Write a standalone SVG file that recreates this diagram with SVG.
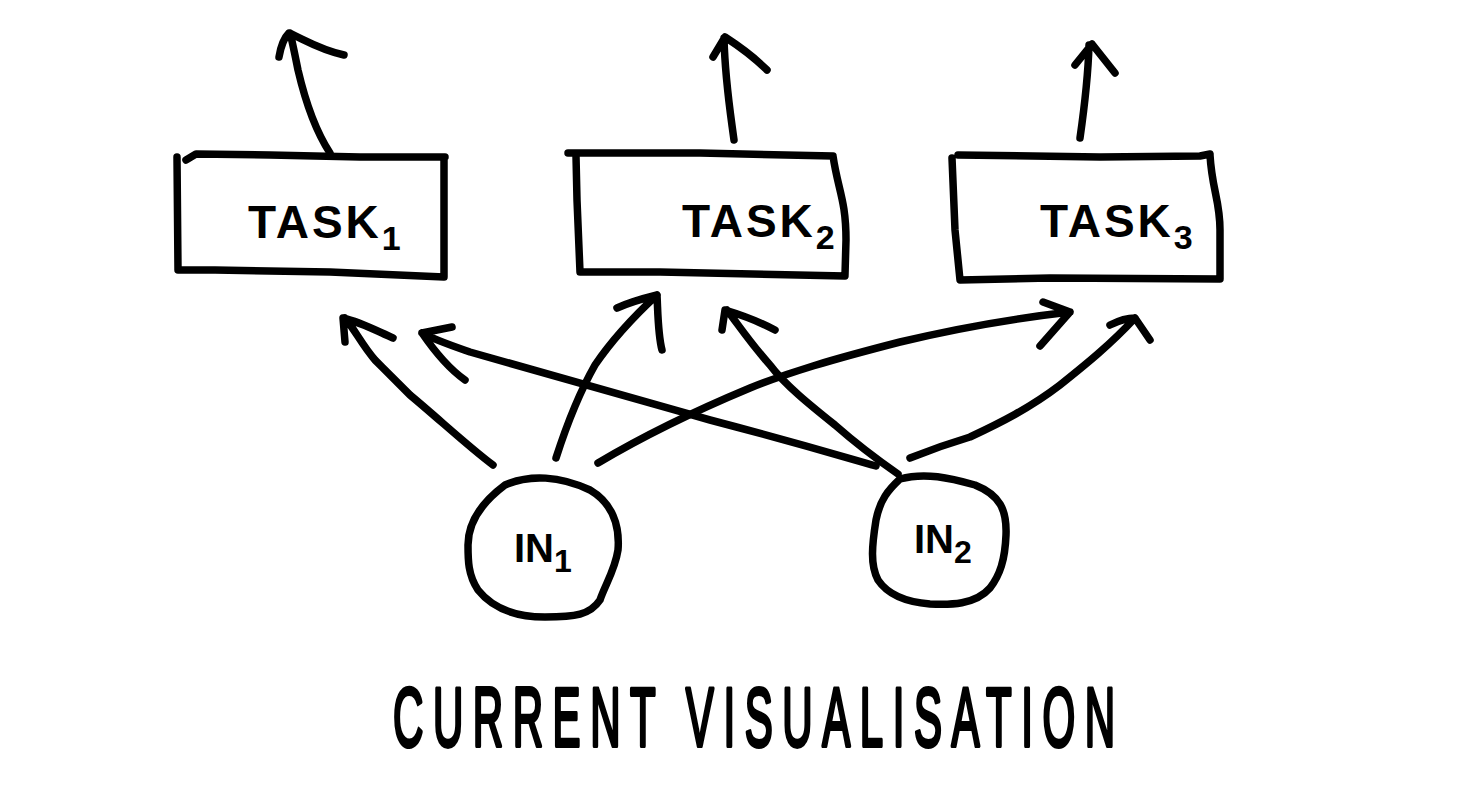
<svg xmlns="http://www.w3.org/2000/svg" width="1484" height="788" viewBox="0 0 1484 788">
<style>
.s{fill:none;stroke:#000;stroke-width:7.5;stroke-linecap:round;stroke-linejoin:round}
.t{font-family:"Liberation Sans",Arial,sans-serif;font-weight:bold;fill:#000}
</style>
<rect width="1484" height="788" fill="#fff"/>
<g id="task1">
<path class="s" d="M186,160 L196,154 L270,155 L360,157 L445,157 M177,157 L178,270 L215,270 L330,272 L444,277 M444,158 L444,277"/>
<text class="t" x="248" y="238" font-size="46" letter-spacing="3">TASK<tspan font-size="34" dy="12">1</tspan></text>
</g>
<g id="task2">
<path class="s" d="M568,153 L700,153 L833,156 M576,156 L577,200 L580,272 L660,272 L845,276 M833,156 C838,190 846,200 846,240 L845,275"/>
<text class="t" x="682" y="237" font-size="46" letter-spacing="3">TASK<tspan font-size="34" dy="12">2</tspan></text>
</g>
<g id="task3">
<path class="s" d="M958,155 L1100,157 L1200,156 L1210,154 M952,158 L955,230 L960,280 L1050,278 L1220,279 M1210,155 C1212,190 1220,200 1220,230 L1220,279"/>
<text class="t" x="1040" y="237" font-size="46" letter-spacing="3">TASK<tspan font-size="34" dy="12">3</tspan></text>
</g>
<g id="in1">
<path class="s" d="M505,485 C530,474 560,476 590,490 C612,503 620,525 618,550 C615,570 605,585 600,600 C590,615 575,617 545,617 C510,617 490,605 478,590 C468,575 468,560 468,545 C468,520 485,500 505,485 Z"/>
<text class="t" x="514" y="562" font-size="40">IN<tspan font-size="32" dy="10">1</tspan></text>
</g>
<g id="in2">
<path class="s" d="M900,479 C925,472 950,478 975,485 C1000,495 1007,510 1006,535 C1005,560 1000,575 990,588 C975,605 950,605 930,604 C905,602 888,595 878,580 C870,565 872,545 876,520 C880,500 888,490 900,479 Z"/>
<text class="t" x="914" y="553" font-size="40">IN<tspan font-size="32" dy="10">2</tspan></text>
</g>
<g id="connectors">
<path class="s" d="M330,153 C315,130 305,100 298,70 C294,50 292,40 290,33 M279,57 C281,45 284,38 289,33 C305,40 320,50 344,55"/>
<path class="s" d="M734,140 C730,110 725,80 724,38 M713,57 L725,37 C745,50 755,58 767,70"/>
<path class="s" d="M1080,138 C1084,110 1088,80 1089,45 M1075,65 L1092,44 L1115,73"/>
<path class="s" d="M493,465 C470,448 440,420 410,395 C390,375 385,370 375,360 C362,345 355,330 345,318 M345,342 L343,318 C360,322 375,330 393,338"/>
<path class="s" d="M556,458 C565,430 578,395 595,365 C612,340 630,320 657,295 M617,308 C630,302 645,298 657,295 C658,315 658,335 662,350"/>
<path class="s" d="M598,463 C640,438 690,413 750,388 C790,372 830,360 900,342 C950,330 1000,320 1070,312 M1043,302 L1070,312 L1040,346"/>
<path class="s" d="M876,466 C820,450 790,441 710,420 C640,400 580,383 470,352 C450,345 435,340 422,333 M452,327 L422,333 C435,352 448,368 465,380"/>
<path class="s" d="M898,474 C875,458 860,447 835,425 C810,405 785,385 770,365 C752,345 742,330 727,310 M722,330 L725,310 C745,316 760,322 775,330"/>
<path class="s" d="M910,458 C930,450 950,443 970,437 C1000,423 1030,408 1060,385 C1085,365 1110,345 1135,318 M1110,325 C1120,320 1128,318 1135,318 L1150,340"/>
</g>
<text transform="translate(393,746) scale(0.5,1)" x="0" y="0" font-family="Liberation Sans, Arial, sans-serif" font-size="84" fill="#000" stroke="#000" stroke-width="4" stroke-linejoin="round" textLength="1444" lengthAdjust="spacing">CURRENT VISUALISATION</text>
</svg>
